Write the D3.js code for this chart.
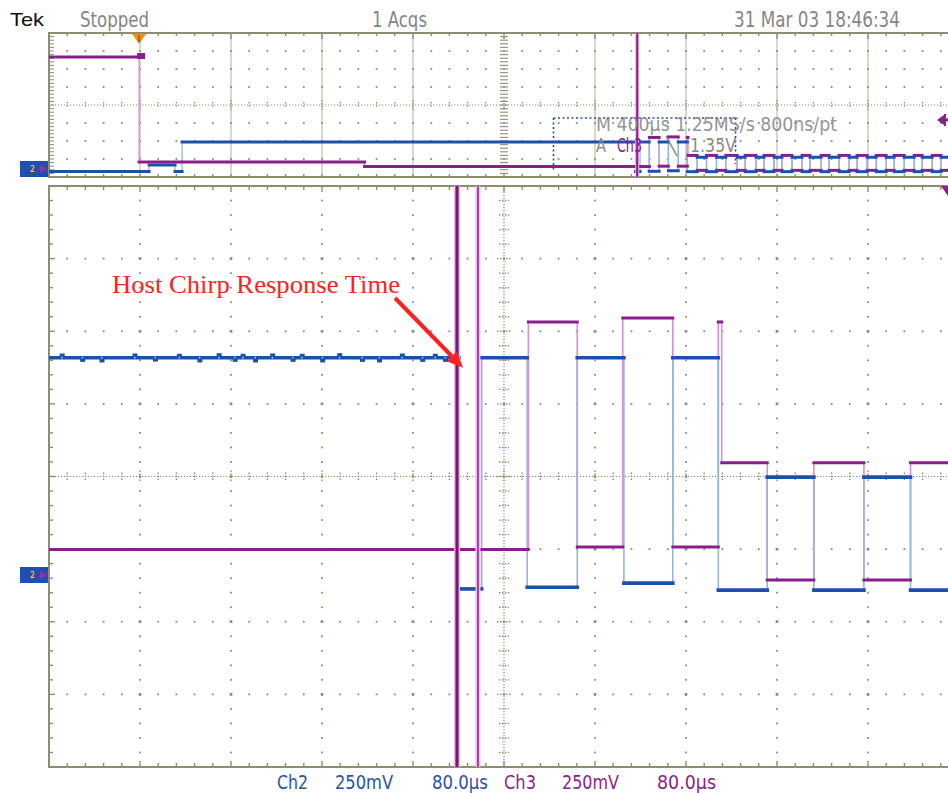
<!DOCTYPE html>
<html>
<head>
<meta charset="utf-8">
<script src="https://cdn.jsdelivr.net/npm/d3@7/dist/d3.min.js"></script>
<style>
  html, body { margin: 0; padding: 0; background: #ffffff; }
  svg { display: block; }
</style>
</head>
<body>
<svg id="scope" width="948" height="793"></svg>
<script>
// ---- Acquisition record -------------------------------------------------
// Time is in µs relative to the centre of the 4 ms record; levels are mV
// relative to each channel's ground marker. Each level holds until the next time.
const ch2Times = [-2000, -1560, -1446, -1415, 578, 598, 638, 682, 723, 766, 806,
  849, 890, 934, 975, 1025, 1060, 1108, 1143, 1187, 1222, 1266, 1310, 1345, 1394,
  1429, 1473, 1517, 1552, 1596, 1636, 1680, 1715, 1759, 1803, 1838, 1882, 1921, 1958];
const ch2Levels = [-40, 135, -40, 755, -41, 755, -35, 755, -21, 755, -45,
  344, -45, 344, -45, 344, -45, 344, -45, 344, -45, 344, -45, 344, -45,
  344, -45, 344, -45, 344, -45, 344, -45, 344, -45, 344, -45, 344, -45];

const ch3Times = [-2000, -1604, -613, 639, 682, 722, 766, 806, 809,
  849, 890, 934, 975, 1025, 1060, 1108, 1143, 1187, 1222, 1266, 1310, 1345, 1394,
  1429, 1473, 1517, 1552, 1596, 1636, 1680, 1715, 1759, 1803, 1838, 1882, 1921, 1958];
const ch3Levels = [3046, 216, 95, 878, 103, 892, 103, 878, 393,
  -10, 393, -10, 393, -10, 393, -10, 393, -10, 393, -10, 393, -10, 393,
  -10, 393, -10, 393, -10, 393, -10, 393, -10, 393, -10, 393, -10, 393];

// Short excursions on the idle Ch2 level (time µs, level mV)
const ch2GlitchTimes  = [227, 245, 262, 291, 309, 330, 348, 365, 379, 386, 397,
  412, 430, 438, 456, 471, 491, 506, 526, 544, 555, 564];
const ch2GlitchLevels = [766, 744, 742, 766, 745, 765, 742, 767, 744, 765, 742,
  766, 744, 765, 742, 767, 744, 742, 766, 744, 765, 744];

const cursorTimes = [576.3, 594.7];
const triggerTime = -1604;
const triggerLevel = 1350;        // Ch3 falling edge, 1.35 V
const recordSpan = [-2000, 2000]; // 400 µs/div overview
const zoomSpan = [217.6, 1017.6]; // 80 µs/div zoom window
const zoomVoltRange = [-654, 1346];   // 250 mV/div
const recordVoltRange = [-189, 3694];

const headerLabels = ["Tek", "Stopped", "1 Acqs", "31 Mar 03 18:46:34"];
const recordReadout = "M 400\u00b5s 1.25MS/s  800ns/pt";
const triggerReadout = ["A", "Ch3", "\u2572", "1.35V"];
const channelReadouts = [["Ch2", "250mV", "80.0\u00b5s"], ["Ch3", "250mV", "80.0\u00b5s"]];
const annotationText = "Host Chirp Response Time";

// ---- Layout ---------------------------------------------------------------
const svg = d3.select("#scope");
const LEFT = 49, WIDTH = 910;
const OV = { top: 33, height: 144 };
const MAIN = { top: 186, height: 581 };
const GRID = "#8f8c74";
const BLUE = "#1d50aa", BLUE_EDGE = "#93b6df";
const PURPLE = "#8c1d8e", PURPLE_EDGE = "#d88ed8";
const NARROW = "'Liberation Sans Narrow', 'DejaVu Sans Condensed', 'Liberation Sans', sans-serif";

const xOv = d3.scaleLinear().domain(recordSpan).range([LEFT, LEFT + WIDTH]);
const xMain = d3.scaleLinear().domain(zoomSpan).range([LEFT, LEFT + WIDTH]);
const yOv = d3.scaleLinear().domain(recordVoltRange).range([OV.top + OV.height, OV.top]);
const yMain = d3.scaleLinear().domain(zoomVoltRange).range([MAIN.top + MAIN.height, MAIN.top]);

const defs = svg.append("defs");
defs.append("clipPath").attr("id", "clipOv").append("rect")
  .attr("x", LEFT).attr("y", OV.top).attr("width", WIDTH).attr("height", OV.height);
defs.append("clipPath").attr("id", "clipMain").append("rect")
  .attr("x", LEFT).attr("y", MAIN.top).attr("width", WIDTH).attr("height", MAIN.height);

function dot(g, x, y, s) {
  g.append("rect").attr("x", x - s / 2).attr("y", y - s / 2)
    .attr("width", s).attr("height", s).attr("fill", GRID);
}
function seg(g, x1, y1, x2, y2, w, col, dash) {
  const l = g.append("line").attr("x1", x1).attr("y1", y1).attr("x2", x2).attr("y2", y2)
    .attr("stroke", col || GRID).attr("stroke-width", w);
  if (dash) l.attr("stroke-dasharray", dash);
  return l;
}

// Zoom-window graticule: dotted major lines, ticked centre cross, ticked frame
function mainGraticule(g, top, h) {
  const nx = 10, ny = 8, dx = WIDTH / nx, dy = h / ny;
  const cx = LEFT + 5 * dx, cy = top + 4 * dy;
  for (let k = 1; k < nx; k++) {
    if (k === 5) continue;
    for (let j = 1; j < ny * 5; j++) dot(g, LEFT + k * dx, top + j * dy / 5, j % 5 === 0 ? 2.4 : 1.8);
  }
  for (let j = 1; j < ny; j++) {
    if (j === 4) continue;
    for (let i = 1; i < nx * 5; i++) dot(g, LEFT + i * dx / 5, top + j * dy, i % 5 === 0 ? 2.4 : 1.8);
  }
  seg(g, cx, top, cx, top + h, 1.2, GRID, "1.2,1.8");
  seg(g, LEFT, cy, LEFT + WIDTH, cy, 1.2, GRID, "1.2,1.8");
  for (let j = 1; j < ny * 5; j++) {
    const len = j % 5 === 0 ? 7 : 5;
    seg(g, cx - len, top + j * dy / 5, cx + len, top + j * dy / 5, 1.4, GRID, "1.5,1.5");
  }
  for (let i = 1; i < nx * 5; i++) {
    const len = i % 5 === 0 ? 6 : 4;
    seg(g, LEFT + i * dx / 5, cy - len, LEFT + i * dx / 5, cy + len, 1.4, GRID, "1.5,1.5");
  }
  for (let i = 1; i < nx * 5; i++) {
    const x = LEFT + i * dx / 5, len = i % 5 === 0 ? 6 : 4;
    seg(g, x, top, x, top + len, 1.4);
    seg(g, x, top + h - len, x, top + h, 1.4);
  }
  for (let j = 1; j < ny * 5; j++) {
    const y = top + j * dy / 5, len = j % 5 === 0 ? 6 : 4;
    seg(g, LEFT, y, LEFT + len, y, 1.4);
  }
  g.append("rect").attr("x", LEFT).attr("y", top).attr("width", WIDTH).attr("height", h)
    .attr("fill", "none").attr("stroke", GRID).attr("stroke-width", 2);
}

// Record-overview graticule: solid major verticals, dot lattice, ticked centre line
function overviewGraticule(g, top, h) {
  const nx = 10, ny = 8, dx = WIDTH / nx, dy = h / ny;
  const cx = LEFT + 5 * dx, cy = top + 4 * dy;
  for (let k = 1; k < nx; k++) {
    if (k === 5) continue;
    seg(g, LEFT + k * dx, top, LEFT + k * dx, top + h, 1, "#b3b09b");
  }
  for (let j = 1; j < ny; j++) {
    if (j === 4) continue;
    for (let i = 1; i < nx * 5; i++) dot(g, LEFT + i * dx / 5, top + j * dy, 1.8);
  }
  seg(g, LEFT, cy, LEFT + WIDTH, cy, 1.1, GRID, "1.2,1.8");
  for (let i = 1; i < nx * 5; i++) {
    const len = i % 5 === 0 ? 5 : 3;
    seg(g, LEFT + i * dx / 5, cy - len, LEFT + i * dx / 5, cy + len, 1.3, GRID, "1.5,1.5");
  }
  for (let j = 1; j < ny * 5; j++) {
    const y = top + j * dy / 5;
    seg(g, cx - 4, y, cx + 4, y, 1.1, GRID);
    seg(g, LEFT, y, LEFT + 5, y, 1.0, GRID);
  }
  for (let i = 1; i < nx * 5; i++) {
    const x = LEFT + i * dx / 5;
    seg(g, x, top, x, top + (i % 5 === 0 ? 6 : 3), 1.4);
    seg(g, x, top + h - 3, x, top + h, 1.4);
  }
  g.append("rect").attr("x", LEFT).attr("y", top).attr("width", WIDTH).attr("height", h)
    .attr("fill", "none").attr("stroke", GRID).attr("stroke-width", 2);
}

// Step trace: faint vertical edges, bold held levels
function traceEdges(g, times, levels, x, y, col, w) {
  for (let i = 1; i < times.length; i++) {
    seg(g, x(times[i]), y(levels[i - 1]), x(times[i]), y(levels[i]), w, col);
  }
}
function traceLevels(g, times, levels, x, y, col, w, end) {
  for (let i = 0; i < times.length; i++) {
    const t1 = i + 1 < times.length ? times[i + 1] : end;
    seg(g, x(times[i]), y(levels[i]), x(t1), y(levels[i]), w, col).attr("stroke-linecap", "square");
  }
}

function groundMarker(g, yPix) {
  g.append("rect").attr("x", 20).attr("y", yPix - 8).attr("width", 28).attr("height", 16).attr("fill", "#1d4fb5");
  g.append("rect").attr("x", 30).attr("y", yPix - 3).attr("width", 5).attr("height", 8).attr("fill", "#4a4a5a");
  g.append("text").attr("x", 32.5).attr("y", yPix + 3).attr("text-anchor", "middle")
    .attr("font-size", 8).attr("font-family", NARROW).attr("fill", "#e8e8f0").text("2");
  g.append("path").attr("d", `M40,${yPix - 4}L47,${yPix}L40,${yPix + 4}Z`).attr("fill", "#a52aa5");
}

// ---- Overview panel -----------------------------------------------------
const gOv = svg.append("g");
overviewGraticule(gOv, OV.top, OV.height);
const gOvTr = gOv.append("g").attr("clip-path", "url(#clipOv)");
traceEdges(gOvTr, ch3Times, ch3Levels, xOv, yOv, PURPLE_EDGE, 1.3);
traceEdges(gOvTr, ch2Times, ch2Levels, xOv, yOv, BLUE_EDGE, 1.3);
traceLevels(gOvTr, ch3Times, ch3Levels, xOv, yOv, PURPLE, 3, recordSpan[1]);
traceLevels(gOvTr, ch2Times, ch2Levels, xOv, yOv, BLUE, 3, recordSpan[1]);
const ovCursor = d3.mean(cursorTimes);
seg(gOvTr, xOv(ovCursor), OV.top, xOv(ovCursor), OV.top + OV.height, 4, "#e9b0ea");
seg(gOvTr, xOv(ovCursor), OV.top, xOv(ovCursor), OV.top + OV.height, 2, PURPLE);

// Zoom window outline
const zx0 = xOv(zoomSpan[0]), zx1 = xOv(zoomSpan[1]);
seg(gOv, zx0, 118, zx1, 118, 1.6, BLUE, "2,2.5");
seg(gOv, zx0, 118, zx0, 172, 1.6, BLUE, "2,2.5");
seg(gOv, zx1, 118, zx1, 164, 1.6, BLUE, "2,2.5");

// Trigger position and level markers
const tx = xOv(triggerTime);
gOv.append("path").attr("d", `M${tx - 7},${OV.top + 1}L${tx + 7},${OV.top + 1}L${tx},${OV.top + 11}Z`).attr("fill", "#f0911e");
seg(gOv, tx, OV.top + 2, tx, OV.top + 9, 1.5, "#8a5a20");
gOv.append("rect").attr("x", tx - 2).attr("y", yOv(3046) - 4).attr("width", 8).attr("height", 6).attr("fill", PURPLE);
const tly = yOv(triggerLevel);
gOv.append("path").attr("d", `M937,${tly}L944,${tly - 5}L944,${tly + 5}Z`).attr("fill", PURPLE);
seg(gOv, 941, tly, 948, tly, 3, PURPLE);
seg(gOv, 945, tly - 6, 945, tly + 6, 2, PURPLE);
groundMarker(gOv, yOv(0) - 1);

// ---- Zoom panel ---------------------------------------------------------
const gMain = svg.append("g");
mainGraticule(gMain, MAIN.top, MAIN.height);
const gTr = gMain.append("g").attr("clip-path", "url(#clipMain)");
traceEdges(gTr, ch3Times, ch3Levels, xMain, yMain, PURPLE_EDGE, 1.6);
traceEdges(gTr, ch2Times, ch2Levels, xMain, yMain, BLUE_EDGE, 1.6);
traceLevels(gTr, ch3Times, ch3Levels, xMain, yMain, PURPLE, 3, recordSpan[1]);
traceLevels(gTr, ch2Times, ch2Levels, xMain, yMain, BLUE, 3.6, recordSpan[1]);
ch2GlitchTimes.forEach((t, i) => {
  const yb = yMain(755), yg = yMain(ch2GlitchLevels[i]);
  gTr.append("rect").attr("x", xMain(t)).attr("y", Math.min(yb, yg) - 1)
    .attr("width", 5).attr("height", Math.abs(yb - yg) + 2).attr("fill", BLUE);
  gTr.append("rect").attr("x", xMain(t) + 1.5).attr("y", yb - 1).attr("width", 1.5).attr("height", 2)
    .attr("fill", BLUE_EDGE);
});

// Time cursors
cursorTimes.forEach((t, i) => {
  const cx = xMain(t);
  seg(gTr, cx, MAIN.top, cx, MAIN.top + MAIN.height, i === 0 ? 6 : 5, "#f2b8f2");
  seg(gTr, cx, MAIN.top, cx, MAIN.top + MAIN.height, i === 0 ? 3.2 : 1.6, i === 0 ? "#6e1d72" : "#8e2a94");
});
gMain.append("path")
  .attr("d", `M941,${MAIN.top}L948,${MAIN.top}L948,${MAIN.top + 10}Z`).attr("fill", PURPLE);
groundMarker(gMain, yMain(0) - 2);

// ---- Annotation ---------------------------------------------------------
const tipX = xMain(cursorTimes[0]) + 6, tipY = yMain(755) + 10;
svg.append("text").attr("x", 112).attr("y", 293)
  .attr("font-family", "'Liberation Serif', 'DejaVu Serif', serif").attr("font-size", 25)
  .attr("fill", "#ff2222").attr("textLength", 288).attr("lengthAdjust", "spacingAndGlyphs")
  .text(annotationText);
const ang = Math.atan2(tipY - 298, tipX - 395);
const hb = 16, hw = 7;
const bx = tipX - hb * Math.cos(ang), by = tipY - hb * Math.sin(ang);
seg(svg, 395, 298, bx, by, 4, "#ff2020");
svg.append("path").attr("d",
  `M${tipX},${tipY}L${bx + hw * Math.sin(ang)},${by - hw * Math.cos(ang)}L${bx - hw * Math.sin(ang)},${by + hw * Math.cos(ang)}Z`)
  .attr("fill", "#ff2020");

// ---- Readouts -----------------------------------------------------------
function label(x, y, txt, col, len, size, fam) {
  const t = svg.append("text").attr("x", x).attr("y", y).attr("fill", col)
    .attr("font-family", fam || NARROW).attr("font-size", size || 21).text(txt);
  if (len) t.attr("textLength", len).attr("lengthAdjust", "spacingAndGlyphs");
  return t;
}
label(10, 26, headerLabels[0], "#111111", 34, 19, "'Liberation Sans', Arial, sans-serif");
label(80, 27, headerLabels[1], "#858585", 69);
label(372, 27, headerLabels[2], "#858585", 55);
label(734, 27, headerLabels[3], "#858585", 166);

label(596, 131, recordReadout, "#8a8a8a", 241, 19).attr("opacity", 0.9);
label(596, 152, triggerReadout[0], "#8a8a8a", 10, 19);
label(617, 152, triggerReadout[1], PURPLE, 25, 19);
label(666, 152, triggerReadout[2], "#8a8a8a", 11, 17);
label(690, 152, triggerReadout[3], "#8a8a8a", 46, 19);

const readX = [[277, 335, 432], [504, 562, 657]];
const readW = [[31, 58, 56], [32, 57, 59]];
const readC = ["#2a54a3", "#8d1e8d"];
channelReadouts.forEach((row, r) => row.forEach((txt, c) => {
  label(readX[r][c], 789, txt, readC[r], readW[r][c], 20);
}));
</script>
</body>
</html>
